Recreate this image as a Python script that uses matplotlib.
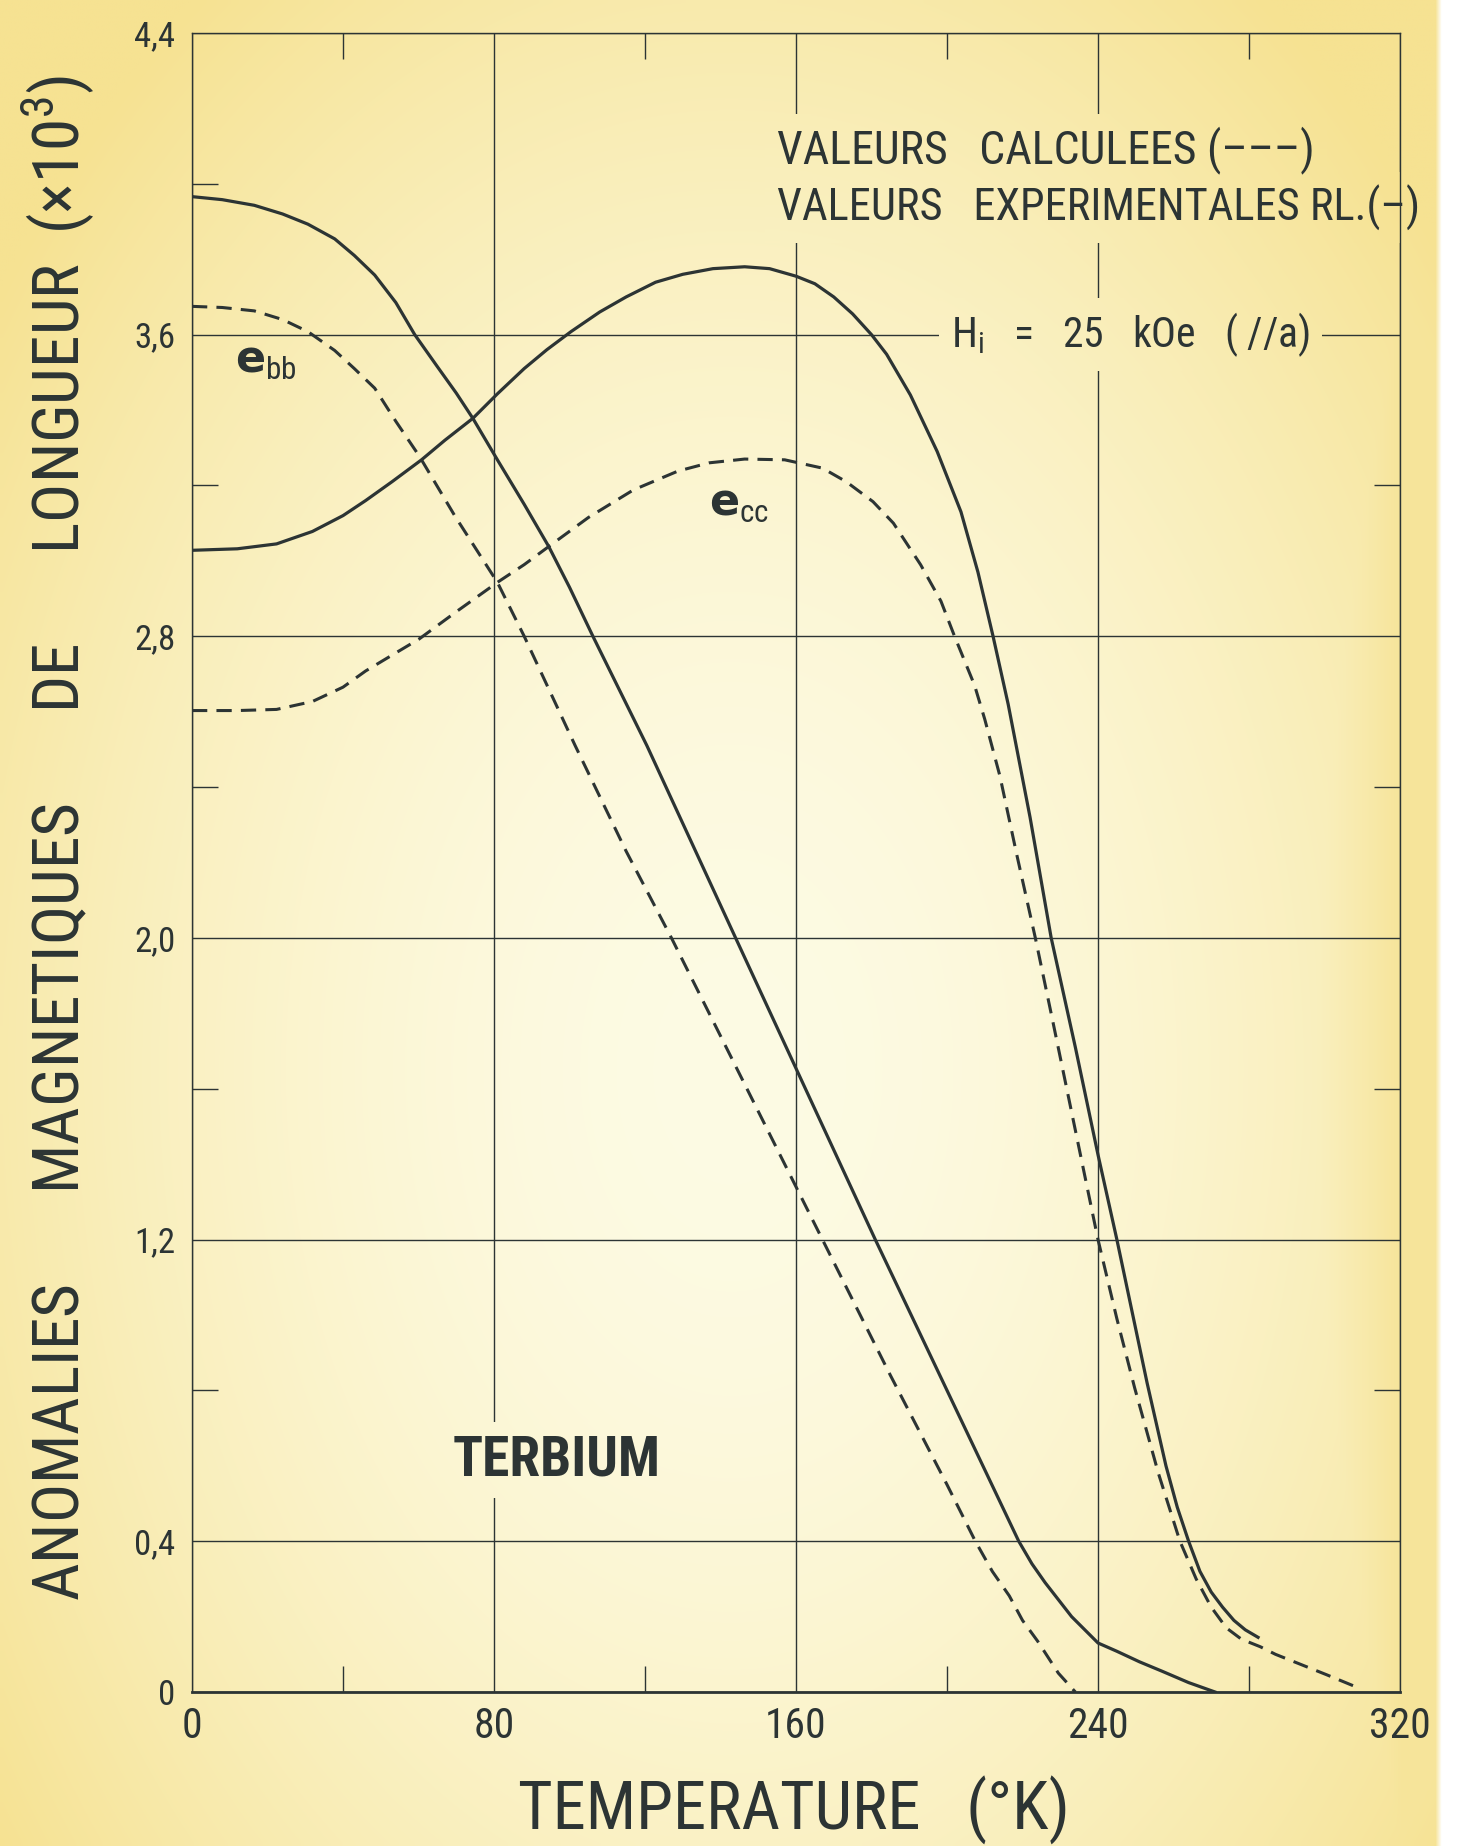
import numpy as np
import matplotlib
matplotlib.use("Agg")
import matplotlib.pyplot as plt
from matplotlib.patches import Rectangle

plt.rcParams['font.family'] = ['Roboto Condensed', 'Roboto', 'DejaVu Sans']

# temperature (K) / anomaly (x10^3) for each curve
ebb_exp_T = [0, 8, 16.5, 24, 30.7, 37.8, 43, 48.4, 54, 59, 65, 70, 74.4, 80.9, 88,
             94.5, 100, 106.2, 120.5, 144, 160, 181, 200, 219, 222.5, 226, 233, 240,
             245, 251, 257, 264, 271]
ebb_exp_v = [3.966, 3.958, 3.943, 3.92, 3.893, 3.854, 3.81, 3.758, 3.685, 3.6, 3.515,
             3.445, 3.378, 3.268, 3.15, 3.038, 2.93, 2.8, 2.51, 2.0, 1.654, 1.2, 0.8,
             0.4, 0.34, 0.29, 0.20, 0.13, 0.108, 0.08, 0.055, 0.025, 0.0]

ebb_calc_T = [0, 8, 16.5, 24, 30.7, 37.8, 43, 48.4, 54, 60.2, 69.7, 80.9, 88, 101.5,
              115, 127, 147, 167, 185, 200, 207.5, 212, 216.5, 220, 224, 229.5, 234]
ebb_calc_v = [3.675, 3.672, 3.663, 3.64, 3.608, 3.558, 3.51, 3.458, 3.37, 3.278, 3.118,
              2.943, 2.8, 2.51, 2.23, 2.0, 1.6, 1.2, 0.84, 0.55, 0.4, 0.32, 0.255,
              0.19, 0.135, 0.05, 0.0]

ecc_exp_T = [0, 12, 22.4, 31.9, 40, 46, 53, 60.8, 67, 74.4, 80.9, 88, 94, 100.4, 108,
             115, 122.8, 130, 138, 146.4, 153, 160, 165, 170, 175, 180, 184, 190.3,
             197.4, 203.7, 208.2, 212.2, 216.2, 222, 227.6, 234, 240, 245, 253, 258,
             261, 264, 267, 270, 273, 276, 279, 282.4]
ecc_exp_v = [3.028, 3.032, 3.045, 3.078, 3.12, 3.16, 3.21, 3.268, 3.32, 3.378, 3.443,
             3.51, 3.56, 3.608, 3.66, 3.70, 3.739, 3.76, 3.775, 3.78, 3.775, 3.755,
             3.735, 3.70, 3.655, 3.6, 3.548, 3.44, 3.29, 3.13, 2.97, 2.8, 2.62, 2.32,
             2.0, 1.71, 1.425, 1.2, 0.82, 0.6, 0.49, 0.4, 0.32, 0.265, 0.225, 0.19,
             0.165, 0.145]

ecc_calc_T = [0, 12, 22.4, 31.9, 40, 46, 53, 60.2, 70, 80.9, 88, 94.5, 105, 116.9,
              128.7, 137, 146.4, 157, 167, 173.3, 180.4, 185.8, 193, 198.4, 202,
              207.3, 210, 214, 218.5, 223.4, 228, 234, 240, 245, 249.7, 256, 261.7,
              266, 270, 274, 278, 283, 287, 294, 300.5, 308]
ecc_calc_v = [2.603, 2.603, 2.606, 2.627, 2.665, 2.708, 2.75, 2.793, 2.865, 2.943,
              2.99, 3.038, 3.115, 3.188, 3.238, 3.26, 3.27, 3.268, 3.246, 3.21, 3.157,
              3.10, 2.99, 2.893, 2.8, 2.67, 2.58, 2.43, 2.22, 2.0, 1.78, 1.49, 1.2,
              0.99, 0.807, 0.58, 0.4, 0.30, 0.225, 0.17, 0.14, 0.12, 0.10, 0.072,
              0.046, 0.015]

x_ticks = [0, 80, 160, 240, 320]
x_minor = [40, 120, 200, 280]
y_ticks = [0, 0.4, 1.2, 2.0, 2.8, 3.6, 4.4]
y_minor = [0.8, 1.6, 2.4, 3.2, 4.0]
y_tick_labels = ['0', '0,4', '1,2', '2,0', '2,8', '3,6', '4,4']

ink = '#2c3434'
W_PX, H_PX = 1463, 1846
EDGE = 1442 / W_PX


def paper(x, y):
    # yellowed paper tone, x/y in figure fraction
    cream = np.array([253, 251, 228]) / 255
    yellow = np.array([246, 226, 146]) / 255
    r = np.sqrt(((x - 0.5) / 0.62) ** 2 + ((y - 0.42) / 0.72) ** 2)
    t = np.clip(r, 0, 1) ** 1.8
    t = np.maximum(t, np.clip((x - 0.80) / 0.16, 0, 1) ** 1.5 * 0.9)
    col = cream + (yellow - cream) * np.asarray(t)[..., None]
    white = np.asarray(x)[..., None] > EDGE
    return np.where(white, 1.0, col)


fig = plt.figure(figsize=(W_PX / 100, H_PX / 100), dpi=100)
bg = fig.add_axes([0, 0, 1, 1], zorder=-10)
gy, gx = np.mgrid[1:0:300j, 0:1:240j]
bg.imshow(paper(gx, gy), extent=(0, 1, 0, 1), aspect='auto', interpolation='bilinear')
bg.axis('off')

ax = fig.add_axes([192 / W_PX, 1 - 1692 / H_PX, (1400 - 192) / W_PX, (1692 - 33) / H_PX])
ax.patch.set_alpha(0)

ax.set_xticks(x_ticks)
ax.set_xticks(x_minor, minor=True)
ax.set_yticks(y_ticks)
ax.set_yticks(y_minor, minor=True)
ax.set_yticklabels(y_tick_labels)
ax.grid(True, which='major', color=ink, lw=1.0)
ax.set_axisbelow(True)
ax.tick_params(which='major', length=0, pad=12, colors=ink)
ax.tick_params(axis='x', which='major', labelsize=30, pad=10)
ax.tick_params(axis='y', which='major', labelsize=25)
ax.tick_params(which='minor', direction='in', length=19, width=1.0, color=ink,
               top=True, right=True)
for side, sp in ax.spines.items():
    sp.set_color(ink)
    sp.set_linewidth(1.0)
ax.spines['bottom'].set_linewidth(2.0)

dash = (5, 3)
ax.plot(ebb_exp_T, ebb_exp_v, color=ink, lw=2.3, zorder=4)
ax.plot(ecc_exp_T, ecc_exp_v, color=ink, lw=2.3, zorder=4)
ax.plot(ebb_calc_T, ebb_calc_v, color=ink, lw=2.2, dashes=dash, zorder=4)
ax.plot(ecc_calc_T, ecc_calc_v, color=ink, lw=2.2, dashes=dash, zorder=4)
ax.set_xlim(0, 320)
ax.set_ylim(0, 4.4)

txt = dict(color=ink, va='center', zorder=3)
notes = [
    ax.text(155, 4.09, 'VALEURS   CALCULEES (\u2013\u2013\u2013)', fontsize=33, **txt),
    ax.text(155, 3.936, 'VALEURS   EXPERIMENTALES RL.(\u2013)', fontsize=32, **txt),
    ax.text(201, 3.6, 'H$_\\mathregular{i}$   =   25   kOe   ( //a)', fontsize=30, **txt),
    ax.text(69, 0.614, 'TERBIUM', fontsize=40, weight='bold', **txt),
]
ax.text(11.5, 3.53, '$\\mathbf{e}_\\mathregular{bb}$', fontsize=32, **txt)
ax.text(137, 3.15, '$\\mathbf{e}_\\mathregular{cc}$', fontsize=32, **txt)

fig.text(0.040, 0.546,
         'ANOMALIES      MAGNETIQUES      DE      LONGUEUR  (\u00d710$^\\mathregular{3}$)',
         rotation=90, fontsize=47, color=ink, ha='center', va='center')
fig.text(0.543, 0.019, 'TEMPERATURE   (\u00b0K)', fontsize=48, color=ink,
         ha='center', va='center')

# clear the grid behind the notes with a patch of the same paper
fig.canvas.draw()
renderer = fig.canvas.get_renderer()
to_data = ax.transData.inverted()
to_figfrac = fig.transFigure.inverted()
for t in notes:
    bb = t.get_window_extent(renderer)
    (px0, py0), (px1, py1) = (bb.x0 - 12, bb.y0 - 12), (bb.x1 + 12, bb.y1 + 12)
    (dx0, dy0), (dx1, dy1) = to_data.transform([(px0, py0), (px1, py1)])
    (fx0, fy0), (fx1, fy1) = to_figfrac.transform([(px0, py0), (px1, py1)])
    py, px = np.mgrid[fy1:fy0:24j, fx0:fx1:48j]
    ax.imshow(paper(px, py), extent=(dx0, dx1, dy0, dy1), aspect='auto',
              interpolation='bilinear', zorder=2.5)
ax.set_xlim(0, 320)
ax.set_ylim(0, 4.4)

# scanner edge on the right
fig.add_artist(Rectangle((EDGE, 0), 1 - EDGE, 1, transform=fig.transFigure,
                         fc='white', ec='none', zorder=20))

fig.savefig('out.png', dpi=100)
